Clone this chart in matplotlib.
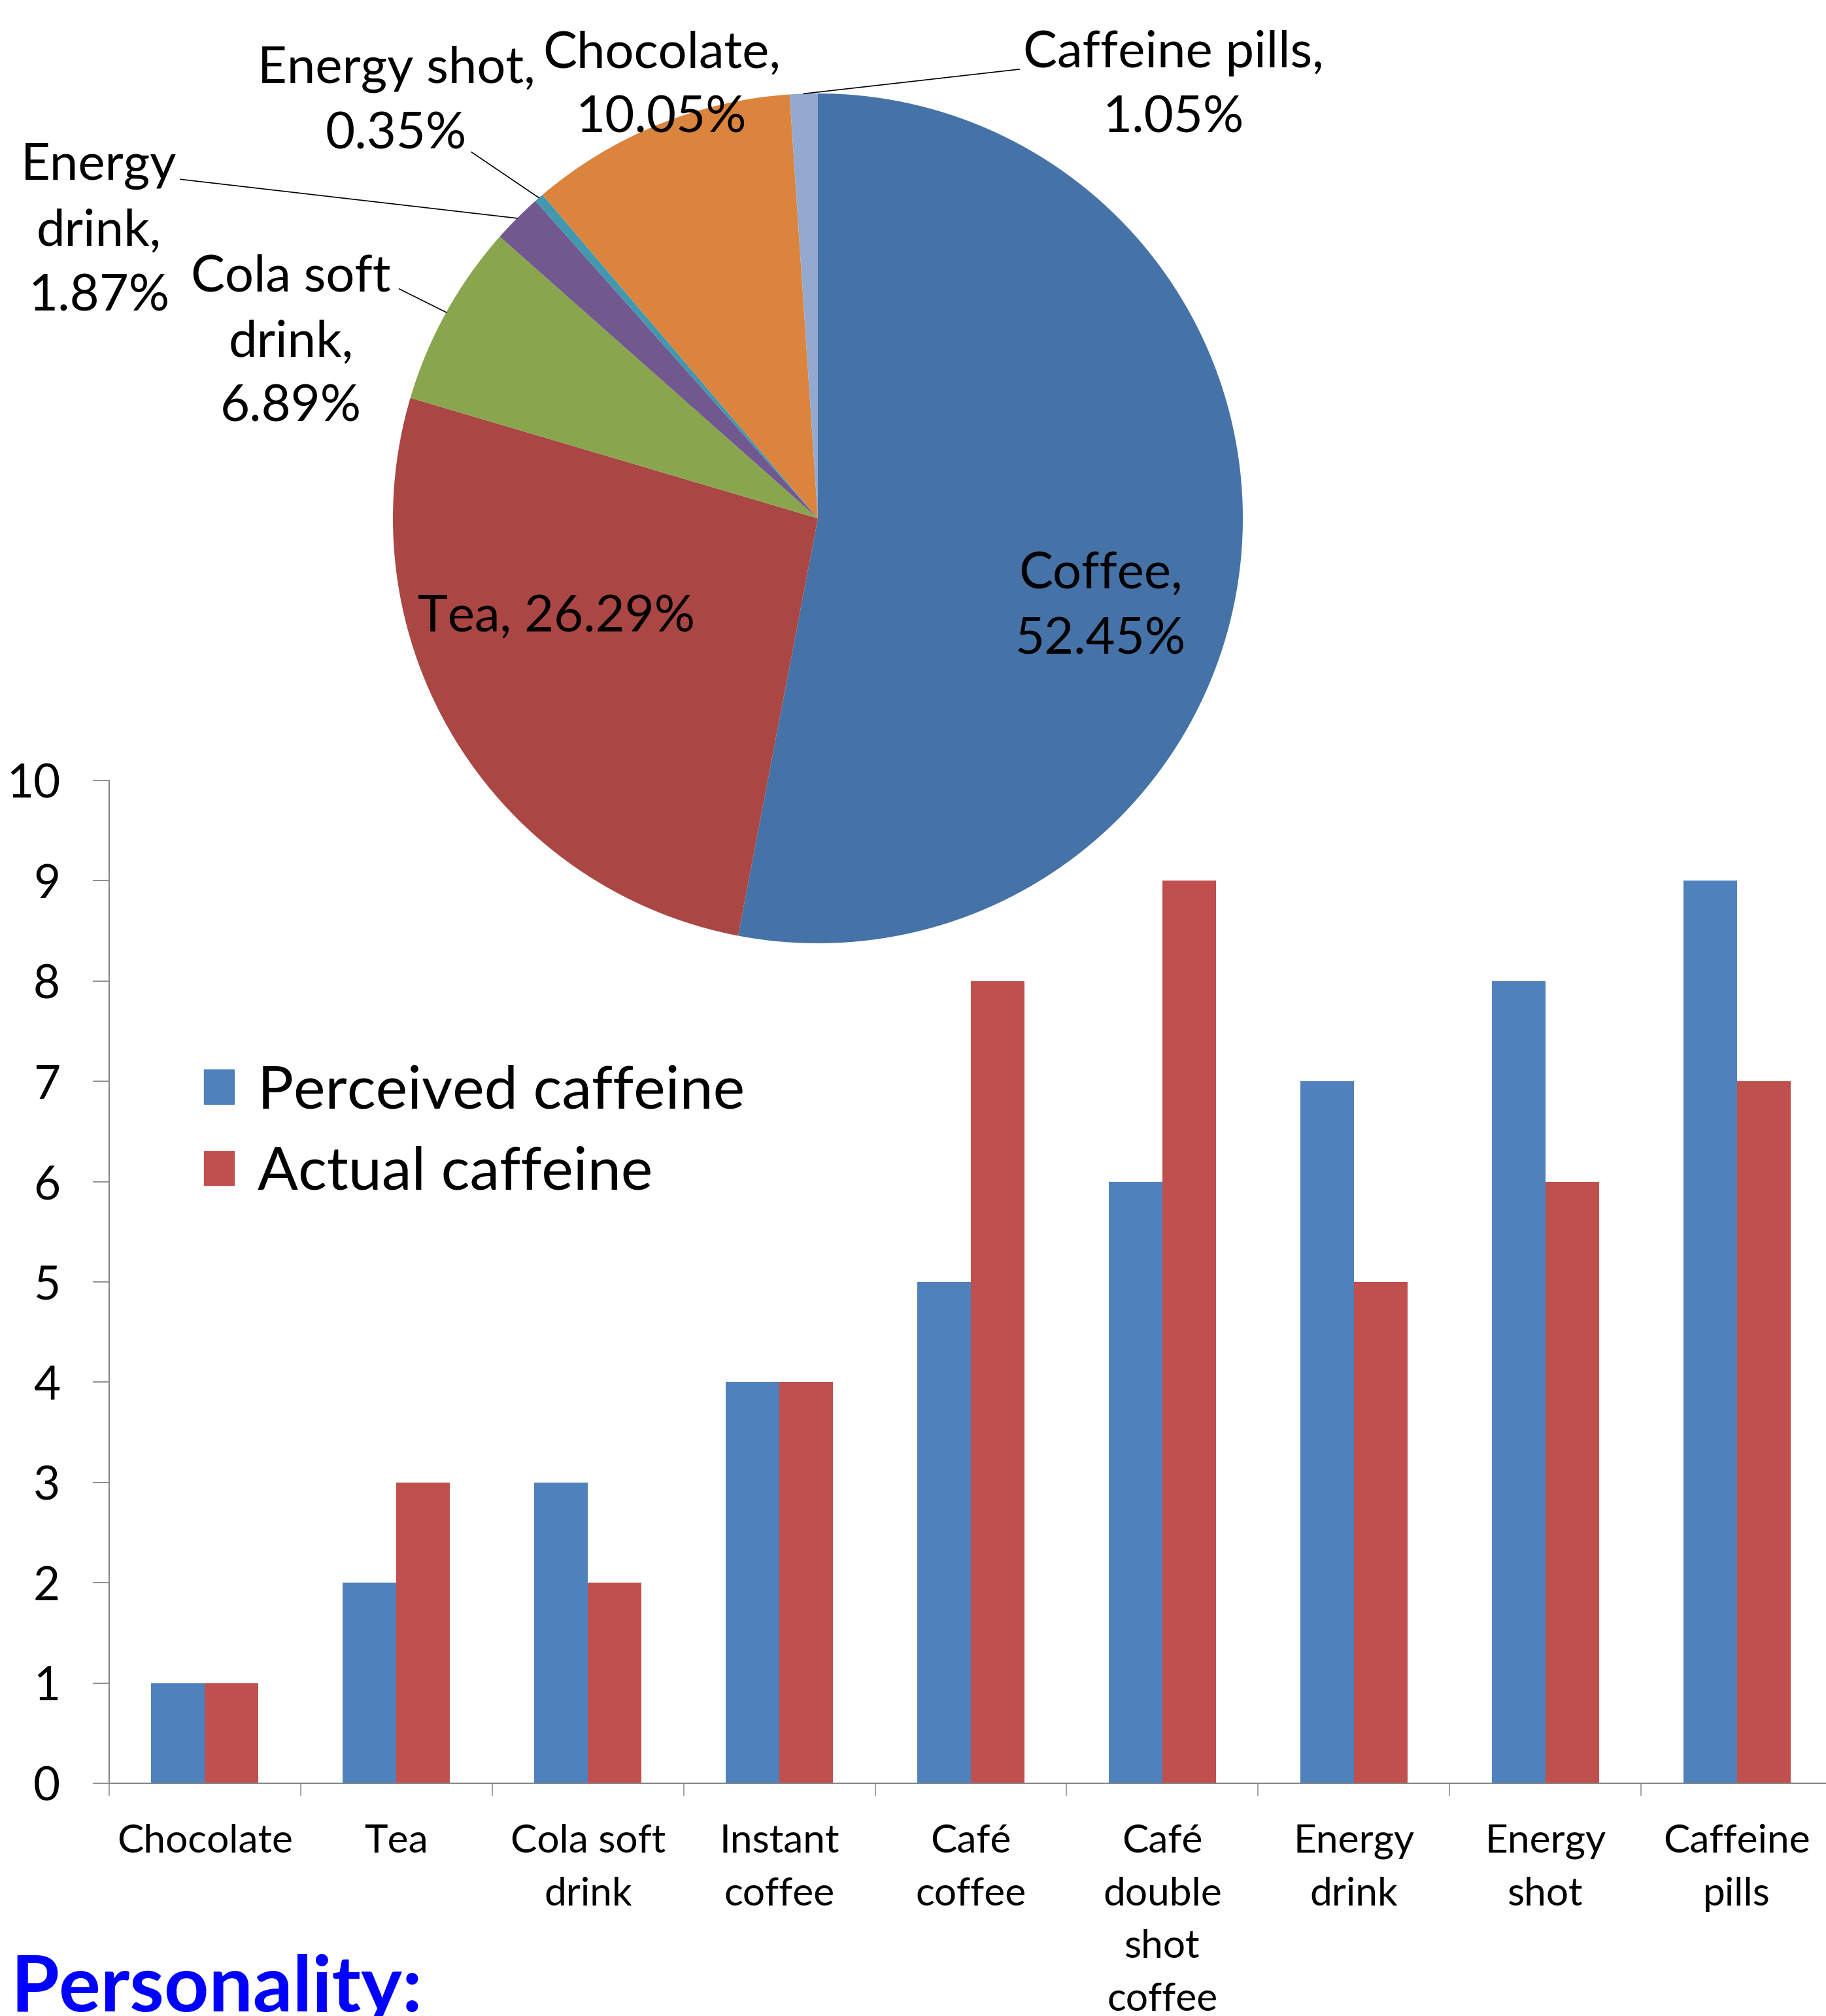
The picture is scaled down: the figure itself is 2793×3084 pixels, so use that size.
import matplotlib
matplotlib.use('Agg')
import matplotlib.pyplot as plt
from matplotlib.patches import Patch
import numpy as np

plt.rcParams['font.family'] = ['Lato', 'DejaVu Sans']

# ---------------- data ----------------
pie_names = ["Coffee,\n", "Tea, ", "Cola soft\ndrink,\n", "Energy\ndrink,\n",
             "Energy shot,\n", "Chocolate,\n", "Caffeine pills,\n"]
pie_values = [52.45, 26.29, 6.89, 1.87, 0.35, 10.05, 1.05]
pie_colors = ["#4572A7", "#AA4643", "#89A54E", "#71588F", "#4198AF", "#DB843D", "#93A9CF"]

categories = ["Chocolate", "Tea", "Cola soft\ndrink", "Instant\ncoffee", "Café\ncoffee",
              "Café\ndouble\nshot\ncoffee", "Energy\ndrink", "Energy\nshot", "Caffeine\npills"]
perceived = [1, 2, 3, 4, 5, 6, 7, 8, 9]
actual = [1, 3, 2, 4, 8, 9, 5, 6, 7]
y_ticks = [0, 1, 2, 3, 4, 5, 6, 7, 8, 9, 10]
series_names = ["Perceived caffeine", "Actual caffeine"]
bar_colors = ["#4F81BD", "#C0504D"]

W, H = 2793, 3084
fig = plt.figure(figsize=(W / 100, H / 100), dpi=100)
fig.patch.set_facecolor('white')

# ---------------- bar chart ----------------
ax = fig.add_axes([167 / W, (H - 2728) / H, (2803 - 167) / W, (2728 - 1194) / H])
x = np.arange(len(categories))
bw = 0.28
ax.bar(x - bw / 2, perceived, bw, color=bar_colors[0], label=series_names[0])
ax.bar(x + bw / 2, actual, bw, color=bar_colors[1], label=series_names[1])
ax.set_xlim(-0.5, len(categories) - 0.5)
ax.set_ylim(0, 10)
ax.set_yticks(y_ticks)
ax.set_xticks(x)
ax.set_xticklabels(categories, fontsize=43.5, linespacing=1.6)
ax.set_xticks(np.arange(len(categories) + 1) - 0.5, minor=True)
ax.tick_params(axis='x', which='major', length=0, pad=45)
ax.tick_params(axis='x', which='minor', length=14, width=1.1, color='#868686', direction='out')
ax.tick_params(axis='y', which='major', length=18, width=1.3, color='#868686', pad=36, labelsize=51)
for s in ['top', 'right']:
    ax.spines[s].set_visible(False)
for s in ['left', 'bottom']:
    ax.spines[s].set_color('#868686')
    ax.spines[s].set_linewidth(1.5)

handles = [Patch(color=c, label=n) for c, n in zip(bar_colors, series_names)]
leg = fig.legend(handles=handles, loc='upper left',
                 bbox_to_anchor=(312 / W, (H - 1628) / H),
                 bbox_transform=fig.transFigure, frameon=False, fontsize=66,
                 handlelength=0.5, handleheight=0.5, handletextpad=0.4,
                 labelspacing=0.45, borderpad=0, borderaxespad=0)

# ---------------- pie chart ----------------
R = 650
cx, cy = 1251, 793
pax = fig.add_axes([(cx - R) / W, (H - cy - R) / H, 2 * R / W, 2 * R / H], zorder=5)
wedges, _ = pax.pie(pie_values, colors=pie_colors, startangle=90, counterclock=False,
                    wedgeprops=dict(linewidth=0))
pax.set_xlim(-1, 1)
pax.set_ylim(-1, 1)
pax.set_aspect('equal')
pax.axis('off')

label_pos = [(0.665, -0.209), (-0.615, -0.234), (-1.24, 0.414), (-1.692, 0.675),
             (-0.992, 0.98), (-0.368, 1.018), (0.837, 1.018)]
for name, v, pos in zip(pie_names, pie_values, label_pos):
    pax.text(pos[0], pos[1], f"{name}{v:.2f}%", ha='center', va='center',
             fontsize=56, linespacing=1.5, clip_on=False)

# leader lines: (wedge index, label-side start point)
leaders = [(2, (-0.985, 0.54)), (3, (-1.5, 0.798)), (4, (-0.815, 0.862)), (6, (0.474, 1.057))]
for i, start in leaders:
    w = wedges[i]
    mid = np.deg2rad((w.theta1 + w.theta2) / 2)
    pax.plot([start[0], np.cos(mid)], [start[1], np.sin(mid)], color='black', lw=1.2,
             clip_on=False)

# ---------------- footer ----------------
fig.text(16 / W, (H - 3077) / H, "Personality:", color='#0000FF', fontsize=86,
         fontweight='bold', ha='left', va='baseline')

fig.savefig('out.png', dpi=100)
